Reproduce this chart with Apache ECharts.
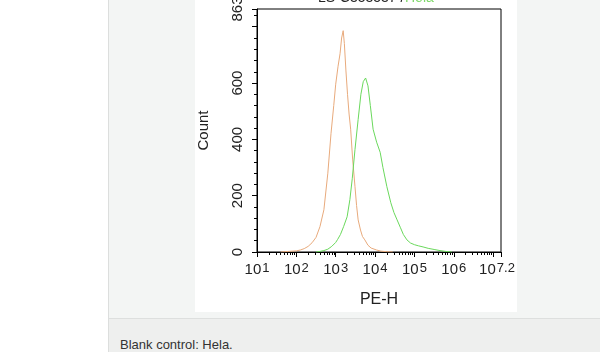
<!DOCTYPE html>
<html lang="en">
<head>
    <meta charset="UTF-8">
    <title>PE-H histogram</title>
    <style>
        body{
            margin: 0;
            background-color: #ffffff;
            font-family: "Liberation Sans", Arial, sans-serif;
        }
        .panel{
            position: absolute;
            left: 108px; top: 0;
            width: 491px; height: 318px;
            background-color: #f3f5f4;
            border-left: 1px solid #dcdedd;
        }
        .caption{
            position: absolute;
            left: 108px; top: 318px;
            width: 491px; height: 34px;
            background-color: #eeefee;
            border-left: 1px solid #dcdedd;
            border-top: 1px solid #dddfde;
        }
        .caption span{
            position: absolute;
            left: 11px; top: 18px;
            font-size: 13px;
            color: #333;
        }
        #histo{
            position: absolute;
            left: 195px; top: 0;
            width: 322px; height: 312px;
            background-color: #ffffff;
        }
    </style>
    <script src="https://cdn.jsdelivr.net/npm/echarts@6/dist/echarts.min.js"></script>
</head>
<body>
<div class="panel"></div>
<div class="caption"><span>Blank control: Hela.</span></div>
<div id="histo"></div>
<script type="text/javascript">
    // x = log10(PE-H), y = count
    var blankCurve = [
        [1.6,0],[1.8,2],[2.0,4],[2.1,7],[2.2,12],[2.3,20],[2.4,33],[2.5,52],[2.6,90],
        [2.7,150],[2.8,280],[2.88,420],[2.95,520],[3.0,596],[3.06,660],[3.11,704],
        [3.15,760],[3.19,786],[3.22,740],[3.26,643],[3.3,560],[3.34,490],[3.38,436],
        [3.43,330],[3.49,232],[3.53,165],[3.57,114],[3.63,78],[3.68,55],[3.74,43],
        [3.82,24],[3.9,14],[4.04,7],[4.15,3],[4.3,1],[4.45,0]
    ];
    var sampleCurve = [
        [2.5,0],[2.6,2],[2.7,5],[2.8,10],[2.9,20],[3.0,34],[3.05,45],[3.12,62],
        [3.2,90],[3.29,125],[3.36,186],[3.42,260],[3.49,364],[3.57,471],[3.64,560],
        [3.7,605],[3.76,618],[3.82,590],[3.88,520],[3.95,436],[4.04,390],[4.13,354],
        [4.2,300],[4.3,232],[4.4,175],[4.48,140],[4.56,114],[4.64,88],[4.72,62],
        [4.81,43],[4.9,32],[5.0,26],[5.1,22],[5.22,18],[5.35,13],[5.5,9],[5.65,5],
        [5.8,2],[5.95,0]
    ];
    var xLabels = [1, 2, 3, 4, 5, 6, 7.2];
    var yLabels = [0, 200, 400, 600, 863];
    var yMax = 863;

    // log minor ticks: 2..9 within each decade
    var minorX = [];
    for (var n = 1; n < 8; n++) {
        for (var k = 2; k < 10; k++) {
            var v = n + Math.log10(k);
            if (v < 7.2) minorX.push(v);
        }
    }

    var chart = echarts.init(document.getElementById('histo'));
    var option = {
        animation: false,
        textStyle: {fontFamily: 'Liberation Sans'},
        graphic: [{
            type: 'text', left: 123, top: -9,
            style: {text: 'LS-C353537 / ', fontSize: 14, fill: '#222'}
        }, {
            type: 'text', left: 210, top: -9,
            style: {text: 'Hela ', fontSize: 14, fill: '#7fd86a'}
        }],
        grid: {
            left: 62, right: 16, top: 9, bottom: 60,
            outerBoundsMode: 'none',
            show: true, borderColor: '#000', borderWidth: 1
        },
        xAxis: [{
            type: 'value', min: 1, max: 7.2, interval: 1,
            name: 'PE-H', nameLocation: 'middle', nameGap: 40,
            nameTextStyle: {fontSize: 16, color: '#222'},
            axisLine: {lineStyle: {color: '#000', width: 1}},
            axisTick: {show: true, length: 5, lineStyle: {color: '#000'}},
            splitLine: {show: false},
            axisLabel: {
                margin: 10,
                customValues: xLabels,
                formatter: function (v) {
                    var e = +Number(v).toFixed(1);
                    // last label is kept inside the white image area
                    var st = e === 7.2 ? 'supEnd' : 'sup';
                    return '{base|10}{' + st + '|' + e + '}';
                },
                rich: {
                    base: {fontSize: 15, lineHeight: 15, color: '#222', verticalAlign: 'bottom'},
                    sup: {fontSize: 13, lineHeight: 13, padding: [0, 0, 4, 1], color: '#222', verticalAlign: 'top'},
                    supEnd: {fontSize: 13, lineHeight: 13, padding: [0, 8, 4, 1], color: '#222', verticalAlign: 'top'}
                }
            }
        }, {
            type: 'value', min: 1, max: 7.2, position: 'bottom',
            axisLine: {show: false},
            axisLabel: {show: false},
            splitLine: {show: false},
            axisTick: {show: true, length: 3, customValues: minorX, lineStyle: {color: '#000'}}
        }],
        yAxis: {
            type: 'value', min: 0, max: yMax, interval: 200,
            name: 'Count', nameLocation: 'middle', nameGap: 46, nameRotate: 90,
            nameTextStyle: {fontSize: 15, color: '#222'},
            axisLine: {show: true, lineStyle: {color: '#000', width: 1}},
            axisTick: {show: true, length: 5, lineStyle: {color: '#000'}},
            minorTick: {show: true, splitNumber: 5, length: 3, lineStyle: {color: '#000'}},
            splitLine: {show: false},
            axisLabel: {
                margin: 12, rotate: 90, fontSize: 15, color: '#222',
                customValues: yLabels
            }
        },
        series: [{
            name: 'Blank control',
            type: 'line',
            data: blankCurve,
            showSymbol: false,
            lineStyle: {color: '#e8aa7c', width: 1}
        }, {
            name: 'Sample',
            type: 'line',
            data: sampleCurve,
            showSymbol: false,
            lineStyle: {color: '#6ad85c', width: 1}
        }]
    };
    chart.setOption(option);
</script>
</body>
</html>
